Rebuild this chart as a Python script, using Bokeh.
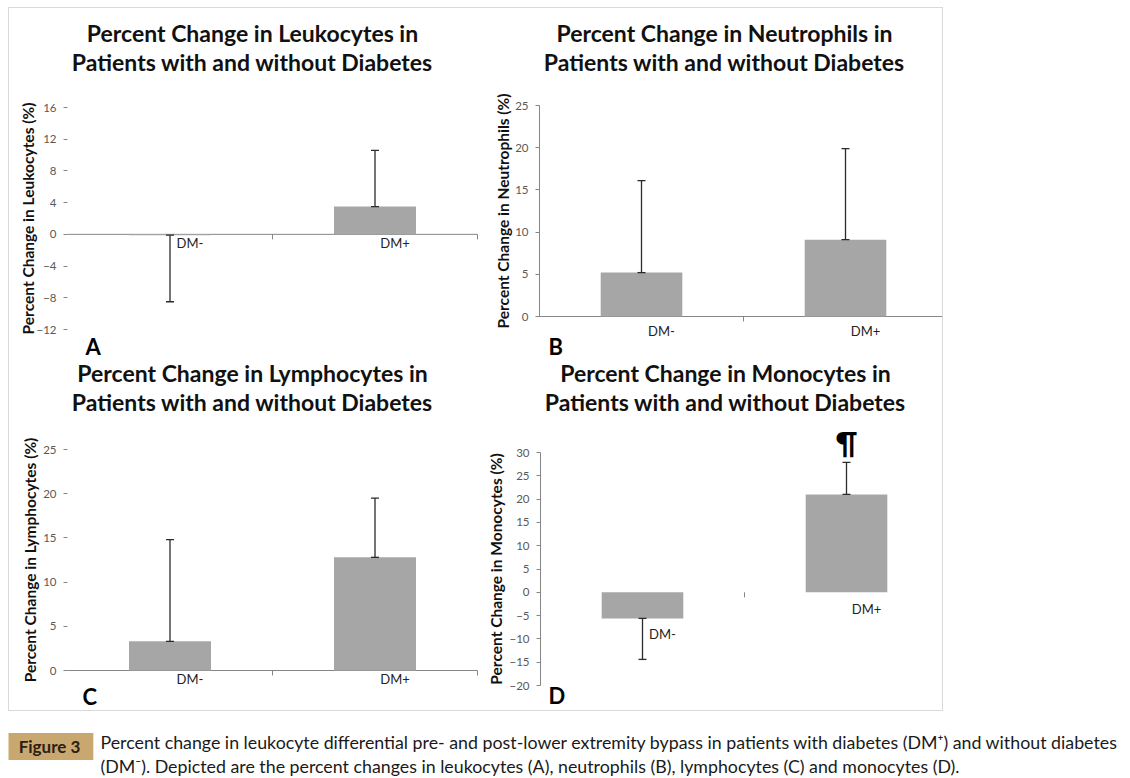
import numpy as np
from bokeh.plotting import figure
from bokeh.models import ColumnDataSource, Range1d, FixedTicker, Whisker, TeeHead, Label, LinearAxis
from bokeh.layouts import column, row
from bokeh.embed import file_html
from bokeh.resources import INLINE

# ---------------- data ----------------
categories = ["DM-", "DM+"]

leuk_mean = [-0.1, 3.5]
leuk_err = [8.4, 7.1]
neut_mean = [5.2, 9.1]
neut_err = [10.9, 10.8]
lymph_mean = [3.3, 12.8]
lymph_err = [11.5, 6.7]
mono_mean = [-5.6, 21.0]
mono_err = [8.8, 6.9]

leuk_ticks = [-12, -8, -4, 0, 4, 8, 12, 16]
neut_ticks = [0, 5, 10, 15, 20, 25]
lymph_ticks = [0, 5, 10, 15, 20, 25]
mono_ticks = [-20, -15, -10, -5, 0, 5, 10, 15, 20, 25, 30]

title_a = ["Percent Change in Leukocytes in", "Patients with and without Diabetes"]
title_b = ["Percent Change in Neutrophils in", "Patients with and without Diabetes"]
title_c = ["Percent Change in Lymphocytes in", "Patients with and without Diabetes"]
title_d = ["Percent Change in Monocytes in", "Patients with and without Diabetes"]

ylabel_a = "Percent Change in Leukocytes (%)"
ylabel_b = "Percent Change in Neutrophils (%)"
ylabel_c = "Percent Change in Lymphocytes (%)"
ylabel_d = "Percent Change in Monocytes (%)"

caption_tag = "Figure 3"
caption_lines = [
    "Percent change in leukocyte differential pre- and post-lower extremity bypass in patients with diabetes (DM\u207a) and without diabetes",
    "(DM\u207b). Depicted are the percent changes in leukocytes (A), neutrophils (B), lymphocytes (C) and monocytes (D).",
]

# ---------------- style ----------------
FONT = "Lato"
BAR = "#a6a6a6"
AXIS = "#868686"
ERR = "#2b2b2b"


def panel(title_lines, ylabel, means, errs, ticks, letter, fig_box, plot_box,
          yline, xline, title_dy, title_dx, label_dy, letter_dx, letter_dy,
          ylabel_standoff, mark=None):
    fx, fy, fw, fh = fig_box          # figure rect on page (px)
    pl, pr, pt, pb = plot_box         # data-area rect on page (px)
    n = len(categories)
    ymin, ymax = min(ticks), max(ticks)
    ux = (pr - pl) / n
    uy = (pb - pt) / (ymax - ymin)
    x0 = -(pl - fx) / ux
    x1 = x0 + fw / ux
    y1 = ymax + (pt - fy) / uy
    y0 = y1 - fh / uy

    xs = np.arange(n) + 0.5
    m = np.asarray(means, dtype=float)
    e = np.asarray(errs, dtype=float)
    lo = np.where(m >= 0, m, m - e)
    hi = np.where(m >= 0, m + e, m)
    src = ColumnDataSource(dict(x=xs, top=m, lo=lo, hi=hi))

    p = figure(width=fw, height=fh, x_range=Range1d(x0, x1), y_range=Range1d(y0, y1),
               output_backend="svg", toolbar_location=None,
               x_axis_type=None, y_axis_type=None, min_border=0)
    p.outline_line_color = None
    p.xgrid.visible = False
    p.ygrid.visible = False
    p.background_fill_color = "white"
    p.border_fill_color = "white"

    # category axis along zero
    if xline:
        p.segment(x0=[0], y0=[0], x1=[n], y1=[0], line_color=AXIS, line_width=1)
    p.ray(x=np.arange(1, n + 1), y=np.zeros(n), length=5, length_units="screen",
          angle=-np.pi / 2, line_color=AXIS, line_width=1)

    p.vbar(x="x", top="top", bottom=0, width=0.4, source=src,
           fill_color=BAR, line_color=None)

    wh = Whisker(source=src, base="x", upper="hi", lower="lo",
                 line_color=ERR, line_width=1.3, level="annotation",
                 upper_head=TeeHead(size=8, line_color=ERR, line_width=1.3),
                 lower_head=TeeHead(size=8, line_color=ERR, line_width=1.3))
    p.add_layout(wh)

    ya = LinearAxis(fixed_location=0, bounds=(ymin, ymax))
    ya.ticker = FixedTicker(ticks=ticks)
    ya.major_tick_in = 0
    ya.major_tick_out = 4
    ya.minor_tick_in = 0
    ya.minor_tick_out = 0
    ya.major_tick_line_color = AXIS
    ya.axis_line_color = AXIS if yline else None
    ya.major_label_text_font = FONT
    ya.major_label_text_font_size = "11.5px"
    ya.major_label_text_color = "#595959"
    ya.major_label_standoff = 7
    ya.axis_label = ylabel
    ya.axis_label_text_font = FONT
    ya.axis_label_text_font_size = "15.5px"
    ya.axis_label_text_font_style = "bold"
    ya.axis_label_text_color = "#111111"
    ya.axis_label_standoff = ylabel_standoff
    p.add_layout(ya, "left")

    for line, dy in zip(title_lines, title_dy):
        p.add_layout(Label(x=n / 2, y=ymax, x_offset=title_dx, y_offset=dy, text=line,
                           text_align="center", text_baseline="middle",
                           text_font=FONT, text_font_size="23px", text_font_style="bold",
                           text_color="#111111"))

    for i, cat in enumerate(categories):
        p.add_layout(Label(x=xs[i], y=0, x_offset=20, y_offset=-label_dy[i], text=cat,
                           text_align="center", text_baseline="middle",
                           text_font=FONT, text_font_size="13px", text_color="#222222"))

    p.add_layout(Label(x=0, y=ymin, x_offset=letter_dx, y_offset=-letter_dy, text=letter,
                       text_align="left", text_baseline="middle",
                       text_font=FONT, text_font_size="22px", text_font_style="bold",
                       text_color="#000000"))

    if mark is not None:
        idx, sym = mark
        p.add_layout(Label(x=xs[idx], y=hi[idx], y_offset=2, text=sym,
                           text_align="center", text_baseline="bottom",
                           text_font=FONT, text_font_size="30px", text_font_style="bold",
                           text_color="#000000"))
    return p


pA = panel(title_a, ylabel_a, leuk_mean, leuk_err, leuk_ticks, "A",
           (9, 8, 470, 352), (67, 477, 107, 329), False, True,
           [75, 46], -20, [9, 9], 18, 17, -4)
pB = panel(title_b, ylabel_b, neut_mean, neut_err, neut_ticks, "B",
           (479, 8, 463, 352), (539, 947, 105, 316), True, True,
           [73, 44], -19, [14, 14], 9, 30, 0)
pC = panel(title_c, ylabel_c, lymph_mean, lymph_err, lymph_ticks, "C",
           (9, 360, 470, 350), (67, 477, 449, 670), False, True,
           [77, 48], -20, [8, 8], 15, 26, 1)
pD = panel(title_d, ylabel_d, mono_mean, mono_err, mono_ticks, "D",
           (479, 360, 463, 350), (540, 948, 452, 685), True, False,
           [80, 51], -19, [42, 17], 8, 10, 1, mark=(1, "\u00b6"))

panels = column(row(pA, pB), row(pC, pD), margin=(7, 0, 0, 8),
                styles={"border": "1px solid #d9d9d9"})

# ---------------- caption ----------------
CAP_H = 66
cap = figure(width=1114, height=CAP_H, x_range=Range1d(0, 1114), y_range=Range1d(0, CAP_H),
             output_backend="svg", toolbar_location=None,
             x_axis_type=None, y_axis_type=None, min_border=0)
cap.margin = (0, 0, 0, 8)
cap.outline_line_color = None
cap.xgrid.visible = False
cap.ygrid.visible = False
cap.add_layout(Label(x=41, y=CAP_H - 35, text=caption_tag, text_align="center", text_baseline="middle",
                     text_font=FONT, text_font_size="17px", text_font_style="bold",
                     text_color="#2a2014", background_fill_color="#c9a86f",
                     padding=(13, 3)))
cap.add_layout(Label(x=92, y=CAP_H - 30, text=caption_lines[0], text_align="left", text_baseline="middle",
                     text_font=FONT, text_font_size="17.8px", text_color="#1a1a1a"))
cap.add_layout(Label(x=92, y=CAP_H - 54, text=caption_lines[1], text_align="left", text_baseline="middle",
                     text_font=FONT, text_font_size="17.8px", text_color="#1a1a1a"))

layout = column(panels, cap)

open("out.html", "w").write(file_html(layout, INLINE))
